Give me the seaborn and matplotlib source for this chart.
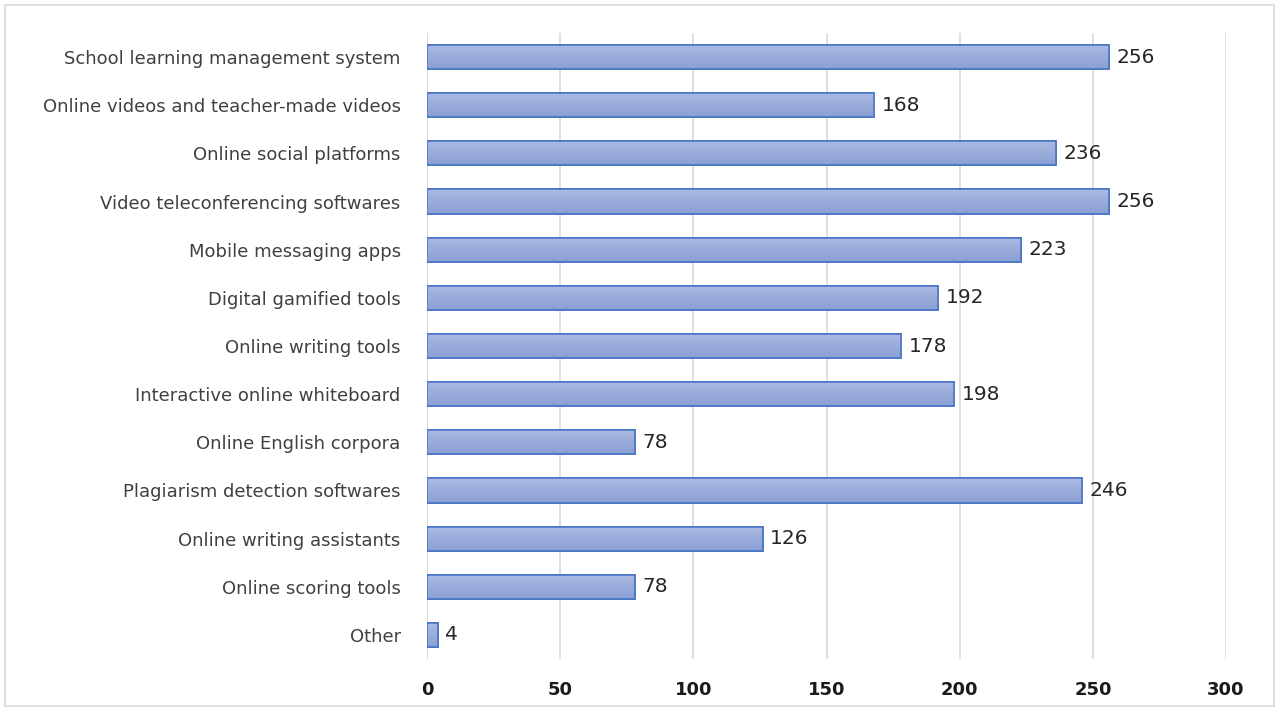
import numpy as np
import pandas as pd
import matplotlib
matplotlib.use("Agg")
import matplotlib.pyplot as plt
import seaborn as sns

categories = [
    "School learning management system",
    "Online videos and teacher-made videos",
    "Online social platforms",
    "Video teleconferencing softwares",
    "Mobile messaging apps",
    "Digital gamified tools",
    "Online writing tools",
    "Interactive online whiteboard",
    "Online English corpora",
    "Plagiarism detection softwares",
    "Online writing assistants",
    "Online scoring tools",
    "Other",
]
counts = [256, 168, 236, 256, 223, 192, 178, 198, 78, 246, 126, 78, 4]
x_ticks = [0, 50, 100, 150, 200, 250, 300]

df = pd.DataFrame({"tool": categories, "count": counts})

sns.set_theme(style="white")
plt.rcParams["font.family"] = ["DejaVu Sans"]

fig = plt.figure(figsize=(12.79, 7.11), dpi=100)
ax = fig.add_axes([0.3339, 0.0731, 0.6247, 0.8805])

sns.barplot(data=df, x="count", y="tool", orient="h", ax=ax,
            color="#9aaedc", edgecolor="#4472c4", linewidth=1.2, width=0.5,
            zorder=3)

# vertical gradient inside each bar
grad = np.linspace(0, 1, 64).reshape(-1, 1)
cmap = matplotlib.colors.LinearSegmentedColormap.from_list(
    "barfill", ["#abbae2", "#8a9fd4"])
for p in ax.patches:
    x0, y0 = p.get_x(), p.get_y()
    w, h = p.get_width(), p.get_height()
    im = ax.imshow(grad, cmap=cmap, aspect="auto",
                   extent=(x0, x0 + w, y0 + h, y0), origin="upper",
                   zorder=3.5, interpolation="bicubic")
    im.set_clip_path(p)
    edge = matplotlib.patches.Rectangle((x0, y0), w, h, fill=False,
                                        edgecolor="#4472c4", linewidth=1.1,
                                        zorder=4)
    ax.add_patch(edge)

for i, v in enumerate(counts):
    ax.text(v + 2.8, i, f"{v}", va="center", ha="left", fontsize=14.5,
            color="#262626", zorder=5)

ax.set_xlim(0, 300)
ax.set_ylim(len(categories) - 0.5, -0.5)
ax.set_xticks(x_ticks)
ax.set_xticklabels([str(t) for t in x_ticks], fontsize=13,
                   fontweight="bold", color="#1a1a1a")
ax.tick_params(axis="x", length=0, pad=16)
ax.tick_params(axis="y", length=0, pad=19, labelsize=13, labelcolor="#404040")
for lab in ax.get_yticklabels():
    lab.set_va("center_baseline")
ax.set_xlabel("")
ax.set_ylabel("")
ax.grid(axis="x", color="#d9d9d9", linewidth=1.2, zorder=0)
ax.grid(axis="y", visible=False)
for s in ax.spines.values():
    s.set_visible(False)
ax.axvline(0, color="#d9d9d9", linewidth=1.2, zorder=1)

fig.patches.append(matplotlib.patches.Rectangle(
    (0.004, 0.007), 0.992, 0.986, transform=fig.transFigure, fill=False,
    edgecolor="#d9d9d9", linewidth=1.2))

fig.savefig("out.png", dpi=100)
